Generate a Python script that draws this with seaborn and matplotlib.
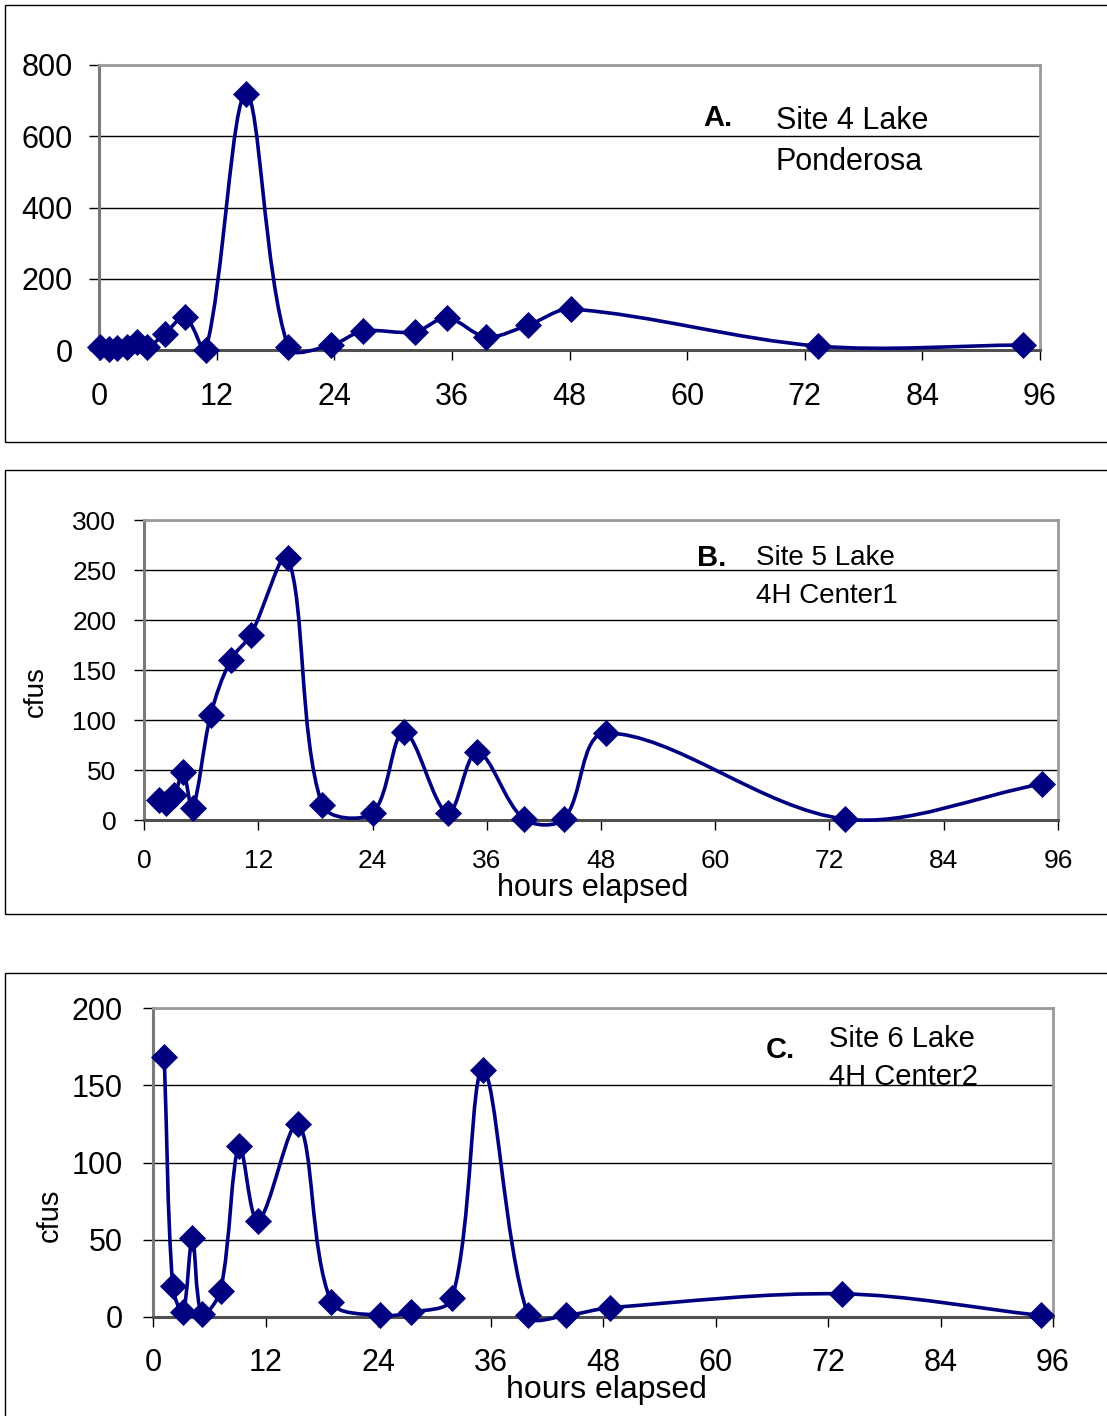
import numpy as np
import pandas as pd
import matplotlib
matplotlib.use("Agg")
import matplotlib.pyplot as plt
from matplotlib.path import Path
from matplotlib.patches import PathPatch, Rectangle
import seaborn as sns

# Site 4 Lake Ponderosa
hours_a = [0.1, 1.0, 1.8, 2.9, 3.9, 4.9, 6.7, 8.8, 10.9, 15.0, 19.3, 23.7, 26.9,
           32.2, 35.5, 39.5, 43.8, 48.2, 73.4, 94.3]
cfus_a = [8, 3, 6, 8, 22, 8, 45, 93, 0, 719, 8, 14, 53, 51, 90, 37, 70, 115, 11, 14]

# Site 5 Lake 4H Center1
hours_b = [1.6, 2.3, 3.2, 4.1, 5.1, 7.0, 9.1, 11.2, 15.1, 18.7, 24.0, 27.3, 31.9,
           35.0, 39.9, 44.1, 48.5, 73.6, 94.3]
cfus_b = [20, 17, 25, 48, 12, 105, 160, 185, 262, 15, 7, 88, 7, 68, 1, 1, 87, 1, 36]

# Site 6 Lake 4H Center2
hours_c = [1.2, 2.1, 3.2, 4.2, 5.2, 7.2, 9.2, 11.2, 15.5, 19.0, 24.2, 27.5, 31.9,
           35.2, 40.0, 44.1, 48.7, 73.5, 94.7]
cfus_c = [168, 20, 3, 51, 2, 17, 111, 62, 125, 10, 1, 3, 12, 160, 1, 1, 6, 15, 1]

x_ticks = [0, 12, 24, 36, 48, 60, 72, 84, 96]
NAVY = "#000080"

sns.set_theme(style="white")
plt.rcParams["font.family"] = ["Liberation Sans", "DejaVu Sans"]
for key in ("text.color", "axes.labelcolor", "xtick.color", "ytick.color"):
    plt.rcParams[key] = "black"

W, H = 1107, 1416
fig = plt.figure(figsize=(W / 100, H / 100), dpi=100)


def px_axes(left, top, right, bottom):
    return fig.add_axes([left / W, 1 - bottom / H, (right - left) / W, (bottom - top) / H])


def smooth_curve(ax, x, y, sx, sy):
    """Smoothed connector: cubic Bezier segments through every point, with the
    control arms scaled by neighbouring chord lengths (measured on screen)."""
    pts = np.column_stack([np.asarray(x, float) * sx, np.asarray(y, float) * sy])
    n = len(pts)
    seg = np.linalg.norm(np.diff(pts, axis=0), axis=1)
    verts = [tuple(pts[0])]
    codes = [Path.MOVETO]
    for i in range(n - 1):
        p1, p2 = pts[i], pts[i + 1]
        d12 = seg[i]
        if i > 0:
            d01 = seg[i - 1]
            c1 = p1 + (p2 - pts[i - 1]) * d12 / (d01 + d12) / 3.0
        else:
            c1 = p1 + (p2 - p1) / 3.0
        if i + 2 < n:
            d23 = seg[i + 1]
            c2 = p2 - (pts[i + 2] - p1) * d12 / (d12 + d23) / 3.0
        else:
            c2 = p2 - (p2 - p1) / 3.0
        verts += [tuple(c1), tuple(c2), tuple(p2)]
        codes += [Path.CURVE4] * 3
    verts = np.array(verts) / np.array([sx, sy])
    patch = PathPatch(Path(verts, codes), facecolor="none", edgecolor=NAVY,
                      lw=2.6, transform=ax.transData, clip_on=False, zorder=3,
                      capstyle="round", joinstyle="round")
    ax.add_patch(patch)


def panel(box, rect, x, y, ymax, ystep, fs, ypad, xpad):
    fig.patches.append(Rectangle((box[0] / W, 1 - box[3] / H), (box[2] - box[0]) / W,
                                 (box[3] - box[1]) / H, transform=fig.transFigure,
                                 fill=False, edgecolor="black", lw=1.0, zorder=0))
    ax = px_axes(*rect)
    ax.set_xlim(0, 96)
    ax.set_ylim(0, ymax)
    sx = (rect[2] - rect[0]) / 96.0
    sy = (rect[3] - rect[1]) / float(ymax)
    df = pd.DataFrame({"hours": x, "cfus": y})
    smooth_curve(ax, df["hours"], df["cfus"], sx, sy)
    sns.scatterplot(data=df, x="hours", y="cfus", marker="D", s=190, color=NAVY,
                    linewidth=0, ax=ax, zorder=4, clip_on=False)
    ax.set_xlim(0, 96)
    ax.set_ylim(0, ymax)
    ax.set_xticks(x_ticks)
    ax.set_yticks(np.arange(0, ymax + 1, ystep))
    ax.yaxis.grid(True, color="black", lw=1.0)
    ax.set_axisbelow(True)
    ax.tick_params(axis="both", which="major", direction="out", length=7, width=1.0,
                   color="black", labelcolor="black", labelsize=fs,
                   bottom=True, left=True)
    ax.tick_params(axis="y", pad=ypad)
    ax.tick_params(axis="x", pad=xpad)
    for side in ("top", "right"):
        ax.spines[side].set_color("#9a9a9a")
        ax.spines[side].set_linewidth(2.0)
    ax.spines["left"].set_color("#7a7a7a")
    ax.spines["left"].set_linewidth(2.2)
    ax.spines["bottom"].set_color("#505050")
    ax.spines["bottom"].set_linewidth(2.2)
    ax.set_xlabel("")
    ax.set_ylabel("")
    return ax


# Panel A
axA = panel((5, 5, 1110, 442), (99, 65, 1040, 350), hours_a, cfus_a, 800, 200, 22, 12, 16)
fig.text(703 / W, 1 - 118 / H, "A.", fontsize=21, fontweight="bold", va="center")
fig.text(776 / W, 1 - 121 / H, "Site 4 Lake", fontsize=22, va="center")
fig.text(776 / W, 1 - 162 / H, "Ponderosa", fontsize=22, va="center")

# Panel B
axB = panel((5, 470, 1110, 914), (144, 520, 1058, 820), hours_b, cfus_b, 300, 50, 19, 13, 14)
fig.text(697 / W, 1 - 558 / H, "B.", fontsize=21, fontweight="bold", va="center")
fig.text(756 / W, 1 - 558 / H, "Site 5 Lake", fontsize=20, va="center")
fig.text(756 / W, 1 - 596 / H, "4H Center1", fontsize=20, va="center")
fig.text(36 / W, 1 - 692 / H, "cfus", fontsize=20, rotation=90, ha="center", va="center")
fig.text(593 / W, 1 - 888 / H, "hours elapsed", fontsize=22, ha="center", va="center")

# Panel C
axC = panel((5, 973, 1110, 1420), (153, 1008, 1053, 1317), hours_c, cfus_c, 200, 50, 22, 15, 15)
fig.text(766 / W, 1 - 1050 / H, "C.", fontsize=21, fontweight="bold", va="center")
fig.text(829 / W, 1 - 1039 / H, "Site 6 Lake", fontsize=21, va="center")
fig.text(829 / W, 1 - 1077 / H, "4H Center2", fontsize=21, va="center")
fig.text(50 / W, 1 - 1215 / H, "cfus", fontsize=21, rotation=90, ha="center", va="center")
fig.text(606 / W, 1 - 1390 / H, "hours elapsed", fontsize=23, ha="center", va="center")

fig.savefig("out.png", dpi=100, facecolor="white")
